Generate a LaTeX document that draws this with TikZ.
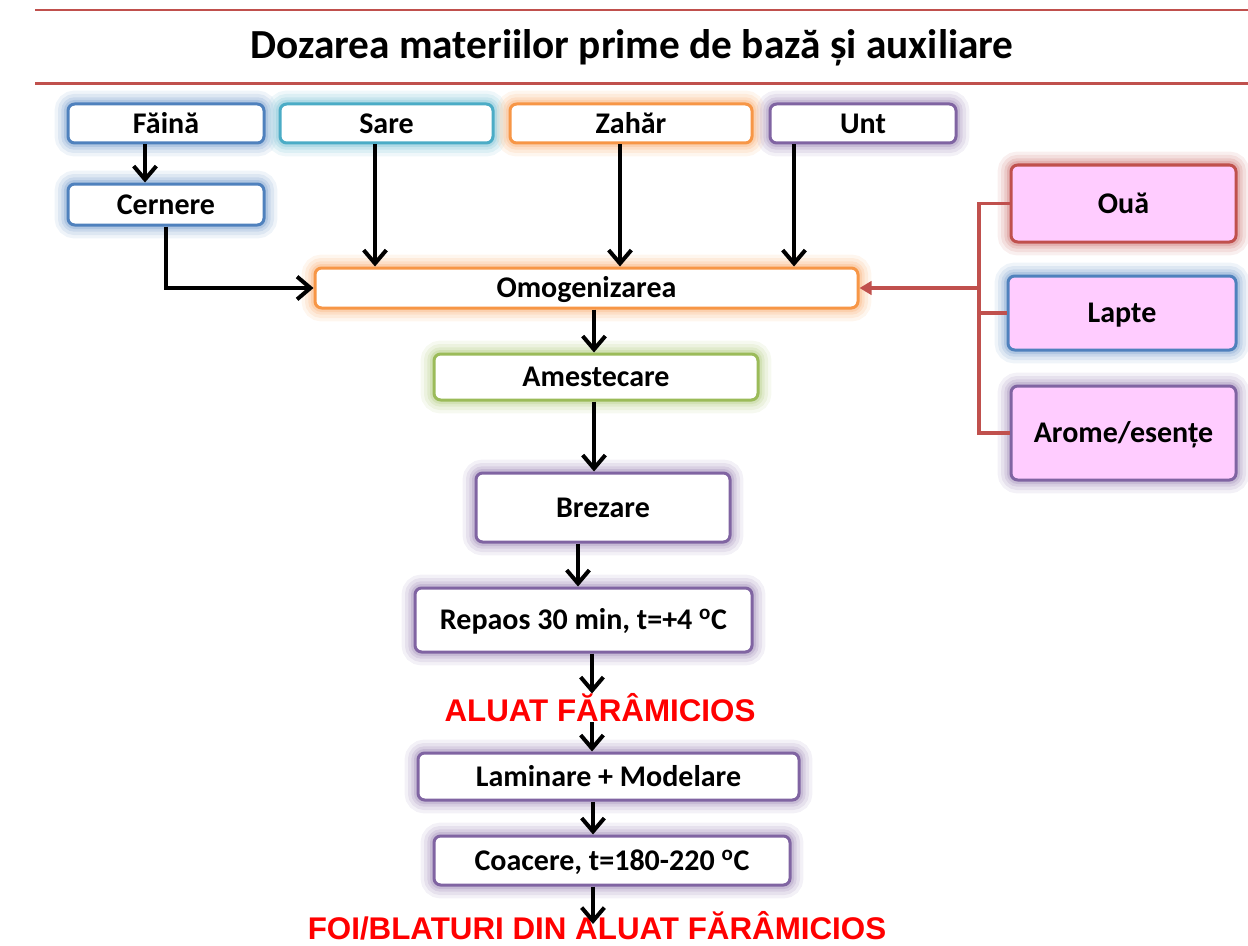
\documentclass[tikz,border=0pt]{standalone}
\usepackage{fontspec}
\setmainfont{Carlito}
\newfontfamily\arialf{Liberation Sans}
\usetikzlibrary{arrows.meta,calc}
\definecolor{cBlue}{HTML}{4F81BD}
\definecolor{cCyan}{HTML}{4BACC6}
\definecolor{cOrange}{HTML}{F79646}
\definecolor{cPurple}{HTML}{8064A2}
\definecolor{cGreen}{HTML}{9BBB59}
\definecolor{cRed}{HTML}{C0504D}
\definecolor{cPink}{HTML}{FFCCFF}
\definecolor{cTxtRed}{HTML}{FF0000}
\tikzset{
  box/.style={draw=#1, line width=2.25pt, rounded corners=5pt, fill=white, inner sep=0pt,
    font=\fontsize{22.5}{26}\selectfont\bfseries, align=center,
    text height=14.4pt, text depth=0pt,
    preaction={draw=#1!50, line width=20pt, draw opacity=0.18},
    preaction={draw=#1!50, line width=15pt, draw opacity=0.25},
    preaction={draw=#1!55, line width=10pt, draw opacity=0.32},
    preaction={draw=#1!60, line width=6pt, draw opacity=0.45}},
  pbox/.style={box=#1, fill=cPink},
  arr/.style={line width=3pt, -{Straight Barb[length=10pt,width=17pt]}},
  redline/.style={draw=cRed, line width=2.6pt},
  redarr/.style={redline, -{Triangle[length=9pt,width=10pt]}},
  redlabel/.style={text=cTxtRed, inner sep=0pt, font=\arialf\bfseries\fontsize{23.5}{26}\selectfont},
  titlefont/.style={font=\fontsize{31}{36}\selectfont\bfseries}
}
\newcommand\bx[7]{\node[#6, minimum width={(#4-#2)*0.75pt}, minimum height={(#5-#3)*0.75pt}] (#1) at ({(#2+#4)/2},{(#3+#5)/2}) {#7};}
\begin{document}
\begin{tikzpicture}[x=0.75pt,y=-0.75pt]
\useasboundingbox (0,0) rectangle (1248,945);
% title
\coordinate (tl1) at (35,10); \coordinate (tr1) at (1248,10);
\coordinate (tl2) at (35,84); \coordinate (tr2) at (1248,84);
\draw[cRed, line width=1.5pt] (tl1) -- (tr1);
\draw[cRed, line width=2.25pt] (tl2) -- (tr2);
\node[titlefont] (title) at (632,48) {Dozarea materiilor prime de bază și auxiliare};
% boxes
\bx{faina}{68}{104}{264}{143}{box=cBlue}{Făină}
\bx{sare}{280}{104}{493}{143}{box=cCyan}{Sare}
\bx{zahar}{510}{104}{752}{143}{box=cOrange}{Zahăr}
\bx{unt}{770}{104}{956}{143}{box=cPurple}{Unt}
\bx{cernere}{68}{184}{264}{225}{box=cBlue}{Cernere}
\bx{omog}{315}{268}{858}{308}{box=cOrange}{Omogenizarea}
\bx{amest}{434}{354}{758}{400}{box=cGreen}{Amestecare}
\bx{brez}{476}{473}{730}{542}{box=cPurple}{Brezare}
\bx{repaos}{415}{588}{752}{652}{box=cPurple}{Repaos 30 min, t=+4 \textsuperscript{o}C}
\bx{lamin}{418}{753}{799}{800}{box=cPurple}{Laminare + Modelare}
\bx{coac}{434}{836}{790}{885}{box=cPurple}{Coacere, t=180-220 \textsuperscript{o}C}
\bx{oua}{1011}{165}{1236}{242}{pbox=cRed}{Ouă}
\bx{lapte}{1008}{276}{1236}{350}{pbox=cBlue}{Lapte}
\bx{arome}{1011}{386}{1236}{480}{pbox=cPurple}{Arome/esențe}
% red labels
\node[redlabel] (aluat) at (600,708) {ALUAT FĂRÂMICIOS};
\node[redlabel] (foi) at (597,926) {FOI/BLATURI DIN ALUAT FĂRÂMICIOS};
% arrow columns
\coordinate (xf) at (145,0);
\coordinate (xs) at (375,0);
\coordinate (xz) at (620,0);
\coordinate (xu) at (794,0);
\coordinate (xa) at (594,0);
\coordinate (xb) at (578,0);
\coordinate (xr) at (592,0);
\coordinate (xc) at (593,0);
\coordinate (rb) at (979,0);
\coordinate (foitip) at (593,924);
\draw[arr] (faina.south -| xf) -- (cernere.north -| xf);
\draw[arr] (sare.south -| xs) -- (omog.north -| xs);
\draw[arr] (zahar.south -| xz) -- (omog.north -| xz);
\draw[arr] (unt.south -| xu) -- (omog.north -| xu);
\draw[arr] (cernere.south) |- (omog.west);
\draw[arr] (omog.south -| xa) -- (amest.north -| xa);
\draw[arr] (amest.south -| xa) -- (brez.north -| xa);
\draw[arr] (brez.south -| xb) -- (repaos.north -| xb);
\draw[arr] (repaos.south -| xr) -- (aluat.north -| xr);
\draw[arr] (aluat.south -| xr) -- (lamin.north -| xr);
\draw[arr] (lamin.south -| xc) -- (coac.north -| xc);
\draw[arr] (coac.south -| xc) -- (foitip);
% red connectors
\draw[redline] (oua.west) -- (oua.west -| rb) -- (arome.west -| rb) -- (arome.west);
\draw[redline] (lapte.west) -- (lapte.west -| rb);
\draw[redarr] (omog.east -| rb) -- (omog.east);
\end{tikzpicture}
\end{document}
